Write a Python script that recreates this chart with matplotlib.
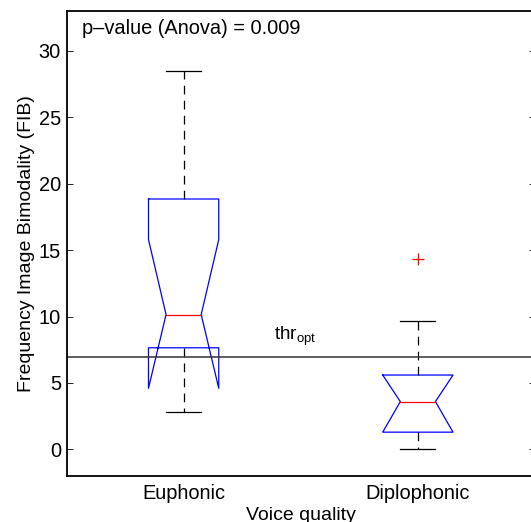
import numpy as np
import matplotlib
matplotlib.use("Agg")
import matplotlib.pyplot as plt

plt.rcParams["font.family"] = ["Liberation Sans", "DejaVu Sans"]
plt.rcParams["mathtext.fontset"] = "custom"
plt.rcParams["mathtext.rm"] = "Liberation Sans"
plt.rcParams["mathtext.it"] = "Liberation Sans"

# box statistics
groups = ["Euphonic", "Diplophonic"]
whisk_hi = [28.5, 9.7]
q3 = [18.85, 5.6]
notch_hi = [15.8, 5.6]
median = [10.15, 3.6]
notch_lo = [4.6, 1.3]
q1 = [7.65, 1.3]
whisk_lo = [2.8, 0.0]
outliers = [[], [14.3]]
thr_opt = 6.95
p_value = 0.009

BW = 0.15   # half box width
NW = 0.075  # half notch width

fig = plt.figure(figsize=(5.31, 5.22), dpi=100)
ax = fig.add_axes([66.5 / 531, 1 - 476 / 522, (535 - 66.5) / 531, (476 - 11) / 522])

for i, g in enumerate(groups):
    x = i + 1
    # notched box outline (MATLAB style)
    px = [x - BW, x - BW, x - NW, x - BW, x - BW, x + BW, x + BW, x + NW, x + BW, x + BW, x - BW]
    py = [q3[i], notch_hi[i], median[i], notch_lo[i], q1[i], q1[i], notch_lo[i], median[i],
          notch_hi[i], q3[i], q3[i]]
    ax.plot(px, py, color="blue", lw=0.9)
    ax.plot([x - NW, x + NW], [median[i], median[i]], color="red", lw=0.9)
    # whiskers
    ax.plot([x, x], [q3[i], whisk_hi[i]], color="black", lw=0.9, dashes=(7, 5))
    ax.plot([x, x], [q1[i], whisk_lo[i]], color="black", lw=0.9, dashes=(7, 5))
    ax.plot([x - NW, x + NW], [whisk_hi[i], whisk_hi[i]], color="black", lw=0.9)
    ax.plot([x - NW, x + NW], [whisk_lo[i], whisk_lo[i]], color="black", lw=0.9)
    if outliers[i]:
        ax.plot([x] * len(outliers[i]), outliers[i], "+", color="red", ms=9, mew=0.9)

ax.axhline(thr_opt, color="#333333", lw=1.1)
ax.text(1.385, thr_opt + 1.3, r"thr$_{\mathrm{opt}}$", fontsize=13.5, ha="left", va="baseline")
ax.text(0.568, 31.3, f"p\u2013value (Anova) = {p_value:.3f}", fontsize=14.4, ha="left", va="baseline")

ax.set_xlim(0.5, 2.5)
ax.set_ylim(-2, 33)
ax.set_yticks(np.arange(0, 31, 5))
ax.set_xticks([1, 2])
ax.set_xticklabels(groups)
ax.tick_params(axis="y", direction="in", length=4, labelsize=14.4, right=True, width=0.6, pad=4)
ax.tick_params(axis="x", length=0, labelsize=14.4, pad=6)
ax.set_ylabel("Frequency Image Bimodality (FIB)", fontsize=14, labelpad=3)
ax.set_xlabel("Voice quality", fontsize=14, labelpad=3)
for s in ax.spines.values():
    s.set_linewidth(1.3)

fig.savefig("out.png", dpi=100)
